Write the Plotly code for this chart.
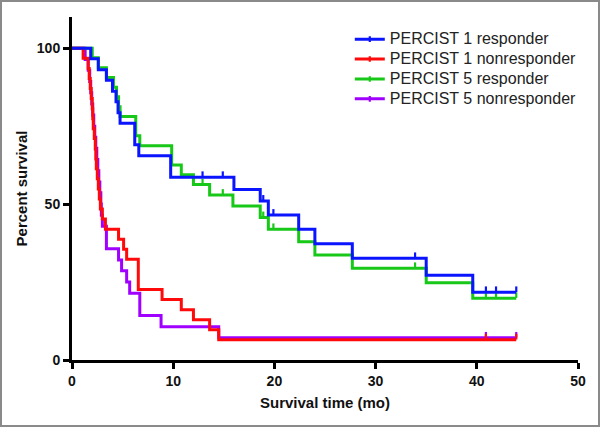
import plotly.graph_objects as go

# ---- data ----
p1_resp_t = [0, 1.85, 2.6, 3.4, 4.0, 4.35, 4.55, 4.75, 6.2, 6.6, 9.75, 16.0, 18.6, 19.4, 22.4, 24.0, 27.7, 35.0, 39.6, 43.9]
p1_resp_s = [100, 96.6, 93.1, 89.7, 86.2, 82.8, 79.3, 75.9, 69.0, 65.5, 58.6, 54.7, 51.0, 46.5, 41.9, 37.3, 32.6, 27.2, 21.7, 21.7]
p1_resp_cens_t = [12.9, 14.9, 18.9, 19.9, 33.9, 40.9, 41.9, 43.9]
p1_resp_cens_s = [58.6, 58.6, 51.0, 46.5, 32.6, 21.7, 21.7, 21.7]

p1_non_t = [0, 1.1, 1.6, 1.7, 1.8, 1.9, 2.0, 2.05, 2.1, 2.2, 2.3, 2.35, 2.4, 2.5, 2.6, 2.7, 2.8, 3.0, 3.3, 4.6, 5.1, 5.4, 6.55, 8.9, 10.8, 12.0, 13.6, 14.5, 43.9]
p1_non_s = [100, 96.8, 93.5, 90.3, 87.1, 83.9, 80.6, 77.4, 74.2, 71.0, 67.7, 64.5, 61.3, 58.1, 54.8, 51.6, 48.4, 45.2, 41.9, 38.7, 35.5, 32.3, 22.6, 19.4, 16.1, 12.9, 9.7, 6.5, 6.5]
p1_non_cens_t = [40.9, 43.9]
p1_non_cens_s = [6.5, 6.5]

p5_resp_t = [0, 2.0, 2.6, 3.4, 4.1, 4.4, 4.6, 4.75, 6.3, 6.7, 9.85, 10.8, 12.0, 13.6, 15.9, 18.6, 19.4, 22.4, 24.0, 27.7, 35.0, 39.6, 43.9]
p5_resp_s = [100, 96.9, 93.75, 90.6, 87.5, 84.4, 81.25, 78.1, 71.9, 68.75, 62.5, 59.4, 56.25, 52.9, 49.4, 45.7, 41.9, 37.9, 33.7, 29.4, 24.8, 19.8, 19.8]
p5_resp_cens_t = [12.9, 14.9, 18.9, 19.9, 33.9, 40.9, 41.9, 43.9]
p5_resp_cens_s = [56.25, 52.9, 45.7, 41.9, 29.4, 19.8, 19.8, 19.8]

p5_non_t = [0, 1.3, 1.6, 1.75, 1.85, 1.95, 2.05, 2.15, 2.25, 2.35, 2.45, 2.55, 2.65, 2.75, 2.85, 2.9, 3.0, 3.4, 4.6, 4.9, 5.4, 5.7, 6.7, 8.8, 14.5, 43.9]
p5_non_s = [100, 96.4, 92.9, 89.3, 85.7, 82.1, 78.6, 75.0, 71.4, 67.9, 64.3, 60.7, 57.1, 53.6, 50.0, 46.4, 42.9, 35.7, 32.1, 28.6, 25.0, 21.4, 14.3, 10.7, 7.1, 7.1]
p5_non_cens_t = [40.9, 43.9]
p5_non_cens_s = [7.1, 7.1]

x_ticks = [0, 10, 20, 30, 40, 50]
y_ticks = [0, 50, 100]

BLUE = "#0a14ff"
RED = "#ff0a0a"
GREEN = "#18c818"
PURPLE = "#a000ff"

series = [
    # draw order: purple, green, red, blue (blue on top)
    ("PERCIST 5 nonresponder", p5_non_t, p5_non_s, p5_non_cens_t, p5_non_cens_s, PURPLE, 4),
    ("PERCIST 5 responder", p5_resp_t, p5_resp_s, p5_resp_cens_t, p5_resp_cens_s, GREEN, 3),
    ("PERCIST 1 nonresponder", p1_non_t, p1_non_s, p1_non_cens_t, p1_non_cens_s, RED, 2),
    ("PERCIST 1 responder", p1_resp_t, p1_resp_s, p1_resp_cens_t, p1_resp_cens_s, BLUE, 1),
]

fig = go.Figure()
for name, t, s, ct, cs, col, rank in series:
    fig.add_trace(go.Scatter(x=t, y=s, mode="lines", line=dict(color=col, width=3, shape="hv"),
                             showlegend=False, hoverinfo="skip"))
    fig.add_trace(go.Scatter(x=ct, y=[v + 1.0 for v in cs], mode="markers",
                             marker=dict(symbol="line-ns-open", size=4, color=col, line=dict(width=2.2, color=col)),
                             showlegend=False, hoverinfo="skip"))
    fig.add_trace(go.Scatter(x=[None], y=[None], mode="lines+markers",
                             name=f'<span style="font-size:16px">{name}</span>', legendrank=rank,
                             line=dict(color=col, width=3),
                             marker=dict(symbol="line-ns-open", size=4, color=col, line=dict(width=2.2, color=col))))

W, H = 600, 427
ml, mr, mt, mb = 72, 22, 17, 67
pw, ph = W - ml - mr, H - mt - mb

fig.add_shape(type="rect", xref="paper", yref="paper",
              x0=(-ml + 1) / pw, x1=(W - ml - 1) / pw, y0=(-mb + 1) / ph, y1=(H - mb - 1) / ph,
              line=dict(color="#8a8a8a", width=2), fillcolor="rgba(0,0,0,0)", layer="below")

axis_font = dict(family="Liberation Sans, Arial, sans-serif", size=14, color="#111")
fig.update_layout(
    width=W, height=H,
    margin=dict(l=ml, r=mr, t=mt, b=mb),
    paper_bgcolor="white", plot_bgcolor="white",
    font=dict(family="Liberation Sans, Arial, sans-serif", color="#111"),
    legend=dict(x=0.549, y=0.979, xanchor="left", yanchor="top", bgcolor="rgba(0,0,0,0)",
                font=dict(family="Liberation Sans, Arial, sans-serif", size=13, color="#222"),
                tracegroupgap=0, itemwidth=30),
    xaxis=dict(range=[0, 50], tickvals=x_ticks, ticktext=[f"<b>{v}</b>" for v in x_ticks],
               showgrid=False, zeroline=False, showline=True, linecolor="black", linewidth=3,
               ticks="outside", ticklen=6, tickwidth=2.5, tickcolor="black", tickfont=axis_font,
               title=dict(text="<b>Survival time (mo)</b>", font=dict(family="Liberation Sans, Arial, sans-serif", size=15, color="#111"), standoff=10)),
    yaxis=dict(range=[0, 110], tickvals=y_ticks, ticktext=[f"<b>{v}</b>" for v in y_ticks],
               showgrid=False, zeroline=False, showline=True, linecolor="black", linewidth=3,
               ticks="outside", ticklen=6, tickwidth=2.5, tickcolor="black", tickfont=axis_font,
               title=dict(text="<b>Percent survival</b>", font=dict(family="Liberation Sans, Arial, sans-serif", size=15, color="#111"), standoff=6)),
)

fig.write_html("out.html", config={"displayModeBar": False},
               post_script="document.body.style.margin='0px';")
